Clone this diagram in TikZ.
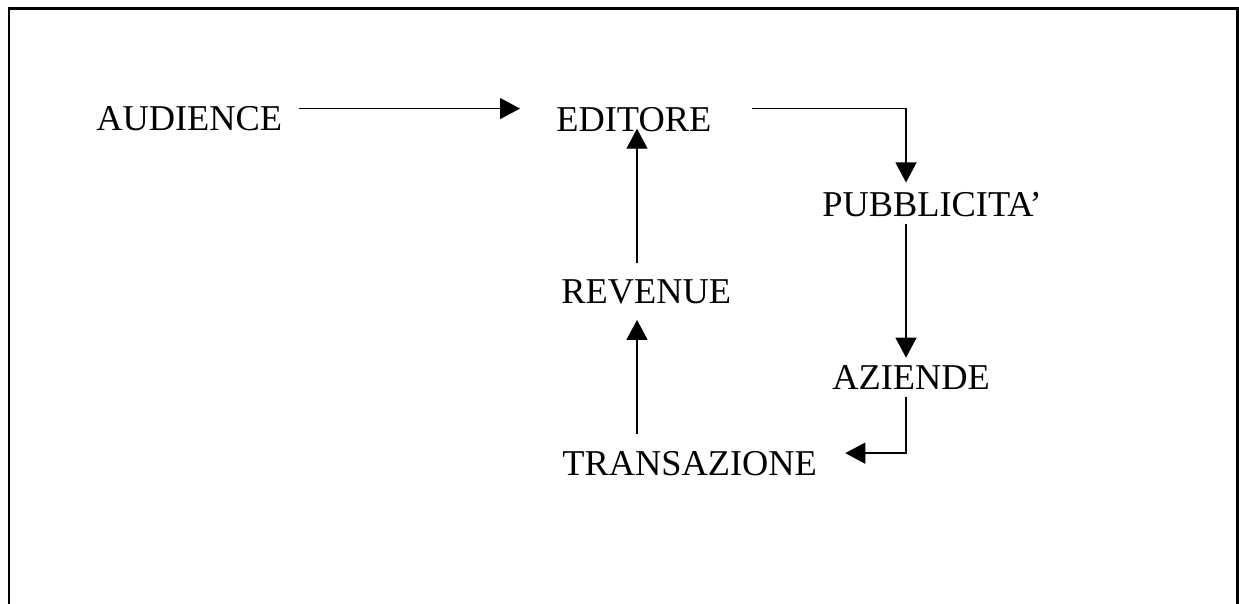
\documentclass[tikz,border=0pt]{standalone}
\usepackage{fontspec}
\setmainfont{Liberation Serif}
\usetikzlibrary{arrows.meta,calc}
\begin{document}
\begin{tikzpicture}[x=0.02cm,y=-0.02cm,
        lbl/.style={font=\fontsize{20.7}{24}\selectfont,inner sep=0pt,anchor=base west},
        arr/.style={line width=0.75pt,-{Triangle[length=0.4cm,width=0.42cm]}}]
        \useasboundingbox (0,0) rectangle (1239,604);
        %% frame
        \draw[line width=0.06cm] (9,604) -- (9,9) -- (1237,9) -- (1237,604);
        %% labels
        \node[lbl] (aud) at (96,131) {AUDIENCE};
        \node[lbl] (edi) at (556,132) {EDITORE};
        \node[lbl] (pub) at (822,217) {PUBBLICITA'};
        \node[lbl] (aze) at (832,389) {AZIENDE};
        \node[lbl] (rev) at (561,303) {REVENUE};
        \node[lbl] (tra) at (562,475) {TRANSAZIONE};
        %% arrows
        \draw[arr] ($(aud.north east)+(16,2)$) -- ($(edi.north west)+(-36,1)$);
        \draw[arr] ($(edi.north east)+(40,1)$) -| ($(pub.north west)+(84,-10)$);
        \draw[arr] ($(pub.south west)+(84,6)$) -- ($(aze.north west)+(74,-7)$);
        \draw[arr] ($(aze.south west)+(74,8)$) |- ($(tra.east)+(28,-10)$);
        \draw[arr] ($(tra.north west)+(75,-17)$) -- ($(rev.south west)+(76,16)$);
        \draw[arr] ($(rev.north west)+(76,-16)$) -- ($(edi.south west)+(81,-4)$);
    \end{tikzpicture}
\end{document}
